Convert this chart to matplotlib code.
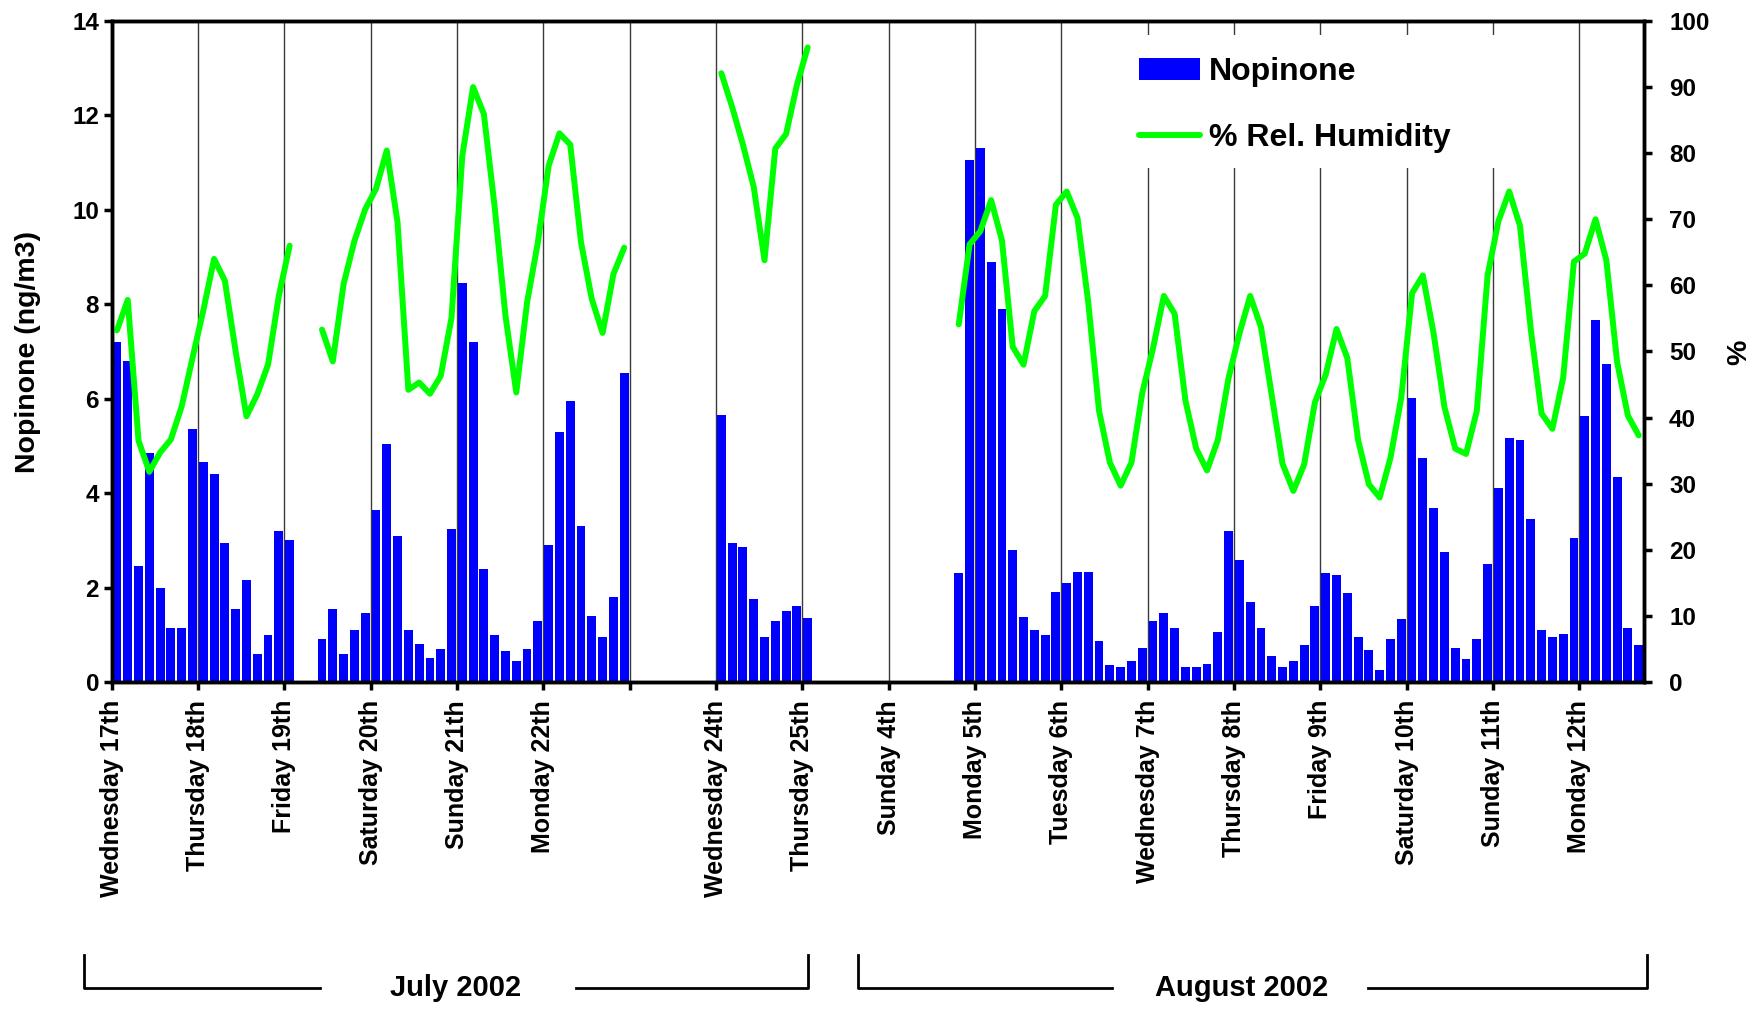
import numpy as np
import matplotlib
matplotlib.use("Agg")
import matplotlib.pyplot as plt
from matplotlib.lines import Line2D
from matplotlib.patches import Rectangle

plt.rcParams['font.family'] = ['Liberation Sans', 'DejaVu Sans']
plt.rcParams['font.weight'] = 'bold'

nan = np.nan

# Samples every 3 hours (8 per day); one tick per day
slots_per_day = 8
day_labels = ['Wednesday 17th', 'Thursday 18th', 'Friday 19th', 'Saturday 20th',
              'Sunday 21th', 'Monday 22th', '', 'Wednesday 24th', 'Thursday 25th',
              'Sunday 4th', 'Monday 5th', 'Tuesday 6th', 'Wednesday 7th',
              'Thursday 8th', 'Friday 9th', 'Saturday 10th', 'Sunday 11th',
              'Monday 12th']

# Nopinone (ng/m3), July campaign
nopinone_july = [
    7.2, 6.8, 2.45, 4.85, 2.0, 1.15, 1.15, 5.35,
    4.65, 4.4, 2.95, 1.55, 2.15, 0.6, 1.0, 3.2,
    3.0, nan, nan, 0.9, 1.55, 0.6, 1.1, 1.45,
    3.65, 5.05, 3.1, 1.1, 0.8, 0.5, 0.7, 3.25,
    8.45, 7.2, 2.4, 1.0, 0.65, 0.45, 0.7, 1.3,
    2.9, 5.3, 5.95, 3.3, 1.4, 0.95, 1.8, 6.55,
    nan, nan, nan, nan, nan, nan, nan, nan,
    5.65, 2.95, 2.85, 1.75, 0.95, 1.3, 1.5, 1.6,
    1.35, nan, nan, nan, nan, nan, nan, nan,
]
# Nopinone (ng/m3), August campaign
nopinone_august = [
    nan, nan, nan, nan, nan, nan, 2.3, 11.05,
    11.3, 8.9, 7.9, 2.8, 1.37, 1.1, 1.0, 1.9,
    2.1, 2.33, 2.33, 0.86, 0.36, 0.31, 0.44, 0.72,
    1.29, 1.46, 1.15, 0.32, 0.32, 0.37, 1.06, 3.19,
    2.58, 1.69, 1.15, 0.54, 0.32, 0.44, 0.78, 1.61,
    2.30, 2.26, 1.88, 0.95, 0.68, 0.25, 0.91, 1.33,
    6.01, 4.75, 3.69, 2.76, 0.72, 0.49, 0.91, 2.49,
    4.11, 5.16, 5.12, 3.46, 1.10, 0.95, 1.01, 3.04,
    5.63, 7.67, 6.74, 4.34, 1.15, 0.78,
]

# Relative humidity (%)
rh_july = [
    53.2, 57.8, 36.5, 31.8, 34.7, 36.7, 41.7, 49.0,
    56.2, 64.0, 60.7, 50.0, 40.2, 43.5, 48.0, 58.4,
    66.0, nan, nan, 53.3, 48.5, 60.2, 66.7, 71.5,
    74.6, 80.4, 69.5, 44.2, 45.3, 43.6, 46.3, 55.1,
    79.6, 90.0, 85.9, 71.8, 55.4, 43.8, 57.4, 66.5,
    78.1, 83.0, 81.3, 66.5, 57.9, 52.8, 61.7, 65.7,
    nan, nan, nan, nan, nan, nan, nan, nan,
    92.1, 87.0, 81.3, 74.9, 63.8, 80.7, 82.9, 90.3,
    96.0, nan, nan, nan, nan, nan, nan, nan,
]
rh_august = [
    nan, nan, nan, nan, nan, nan, 54.1, 66.2,
    68.2, 72.9, 66.8, 50.7, 48.0, 56.1, 58.4, 72.2,
    74.2, 70.2, 57.4, 41.0, 33.2, 29.7, 33.2, 43.7,
    50.5, 58.4, 55.7, 42.6, 35.3, 32.0, 36.6, 46.0,
    52.7, 58.4, 53.7, 43.3, 33.0, 28.9, 32.9, 42.3,
    46.5, 53.4, 49.0, 36.6, 29.9, 27.9, 33.9, 43.0,
    58.8, 61.5, 52.7, 41.6, 35.3, 34.5, 41.0, 61.5,
    69.7, 74.2, 69.0, 53.4, 40.6, 38.3, 46.0, 63.6,
    64.8, 70.0, 63.8, 48.4, 40.3, 37.3,
]

nopinone = np.array(nopinone_july + nopinone_august, dtype=float)
rh = np.array(rh_july + rh_august, dtype=float)
x = (np.arange(len(nopinone)) + 0.5) / slots_per_day
n_days = len(day_labels)

W, H = 1765, 1013


def fx(px):
    return px / W


def fy(py):
    return 1 - py / H


fig = plt.figure(figsize=(W / 100, H / 100), dpi=100)
ax = fig.add_axes([0.0632, 0.3268, 0.8683, 0.6525])
ax2 = ax.twinx()

# vertical day separators, hidden behind the legend area
ax.vlines(np.arange(1, n_days), 0, 14, color='#3a3a3a', lw=1.0, zorder=0.5)
ax.add_patch(Rectangle((0.645, 0.778), 0.281, 0.201, transform=ax.transAxes,
                       facecolor='white', edgecolor='none', zorder=1))

ok = ~np.isnan(nopinone)
bars = ax.bar(x[ok], nopinone[ok], width=0.82 / slots_per_day,
              color='#0000ff', zorder=2)
line, = ax2.plot(x, rh, color='#00ff00', lw=4.3,
                 solid_joinstyle='round', solid_capstyle='round')

ax.set_xlim(0, n_days - 0.25)
ax.set_ylim(0, 14)
ax2.set_ylim(0, 100)
ax.set_yticks(np.arange(0, 15, 2))
ax2.set_yticks(np.arange(0, 101, 10))
ax.set_xticks(np.arange(n_days))
ax.set_xticklabels(day_labels, rotation=90, va='top', ha='center')

ax.tick_params(axis='x', direction='out', length=6, width=2.5, pad=7,
               labelsize=18)
ax.tick_params(axis='y', direction='out', length=6, width=2.5, pad=3,
               labelsize=17.5)
ax2.tick_params(axis='y', direction='out', length=6, width=2.5, pad=12,
                labelsize=17.5)
for a in (ax, ax2):
    for s in a.spines.values():
        s.set_linewidth(2.5)
        s.set_color('black')

fig.text(fx(28), fy(352), 'Nopinone (ng/m3)', rotation=90, ha='center',
         va='center', fontsize=20.5)
fig.text(fx(1739), fy(352), '%', rotation=90, ha='center', va='center',
         fontsize=20.5)

fig.legend([bars, line], ['Nopinone', '% Rel. Humidity'], loc='upper left',
           bbox_to_anchor=(fx(1139), fy(57)), frameon=False, fontsize=23,
           handlelength=1.9, handletextpad=0.3, labelspacing=1.13,
           borderpad=0, borderaxespad=0)

# month brackets under the day labels
brackets = [((84, 320), (576, 808), 456, 'July 2002'),
            ((858, 1112), (1368, 1647), 1242, 'August 2002')]
for (l0, l1), (r0, r1), xc, txt in brackets:
    fig.add_artist(Line2D([fx(l0), fx(l0), fx(l1)], [fy(955), fy(988), fy(988)],
                          color='black', lw=2))
    fig.add_artist(Line2D([fx(r0), fx(r1), fx(r1)], [fy(988), fy(988), fy(955)],
                          color='black', lw=2))
    fig.text(fx(xc), fy(988), txt, ha='center', va='center', fontsize=21,
             weight='bold')

fig.savefig('out.png', dpi=100)
